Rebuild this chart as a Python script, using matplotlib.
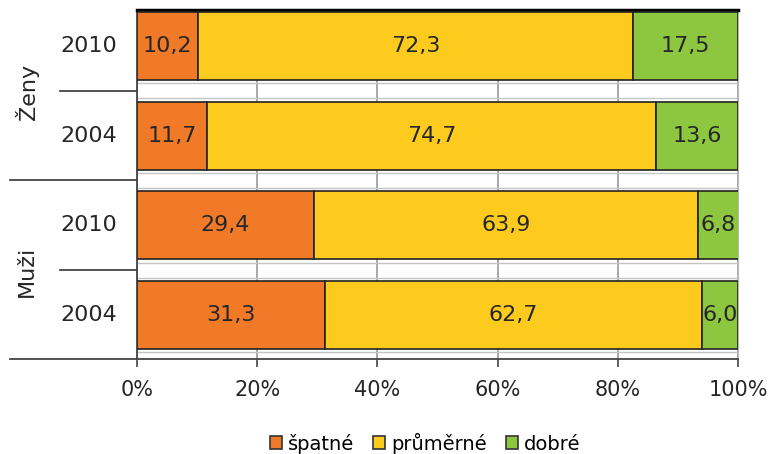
import matplotlib
matplotlib.use('Agg')
import matplotlib.pyplot as plt
import matplotlib.transforms as mtransforms
from matplotlib.lines import Line2D
from matplotlib.patches import Patch

years = ['2010', '2004', '2010', '2004']
groups = ['Ženy', 'Muži']
series = ['špatné', 'průměrné', 'dobré']
spatne = [10.2, 11.7, 29.4, 31.3]
prumerne = [72.3, 74.7, 63.9, 62.7]
dobre = [17.5, 13.6, 6.8, 6.0]
colors = ['#F07A28', '#FDCB1E', '#8DC63F']

plt.rcParams['font.family'] = ['DejaVu Sans']
txtcol = '#262626'

fig = plt.figure(figsize=(7.7, 4.54), dpi=100)
ax = fig.add_axes([137/770, 1-359/454, (738-137)/770, (359-10)/454])

ypos = list(range(len(years)))
left = [0.0] * len(years)
for vals, col in zip([spatne, prumerne, dobre], colors):
    ax.barh(ypos, vals, left=left, height=0.76, color=col,
            edgecolor='#222222', linewidth=1.2, zorder=3)
    for y, l, v in zip(ypos, left, vals):
        ax.text(l + v/2, y, f'{v:.1f}'.replace('.', ','), ha='center', va='center',
                fontsize=16, color=txtcol, zorder=4, clip_on=True)
    left = [a + b for a, b in zip(left, vals)]

# faint strip outlines in the gaps between bars
for y in ypos:
    for off in (-0.415, 0.415):
        ax.axhline(y + off, color='#c4c4c4', linewidth=1.0, zorder=1)

ax.set_xlim(0, 100)
ax.set_ylim(3.49, -0.40)
ax.set_xticks([0, 20, 40, 60, 80, 100])
ax.set_xticklabels(['0%', '20%', '40%', '60%', '80%', '100%'], fontsize=15, color=txtcol)
ax.tick_params(axis='x', direction='out', length=6, width=1.2, color='#444444', pad=9)
ax.set_yticks([])
ax.xaxis.grid(True, color='#9a9a9a', linewidth=1.2, zorder=0)
ax.set_axisbelow(True)

ax.spines['top'].set_color('black')
ax.spines['top'].set_linewidth(2.5)
ax.spines['left'].set_color('#444444')
ax.spines['left'].set_linewidth(1.3)
ax.spines['right'].set_color('#bbbbbb')
ax.spines['bottom'].set_color('#444444')
ax.spines['bottom'].set_linewidth(1.3)

# year labels and group labels at the left
for y, yr in zip(ypos, years):
    ax.text(-3.3, y, yr, ha='right', va='center', fontsize=16, color=txtcol)
fig.text(27/770, 1-92/454, groups[0], rotation=90, ha='center', va='center',
         fontsize=16, color=txtcol)
fig.text(27/770, 1-271/454, groups[1], rotation=90, ha='center', va='center',
         fontsize=16, color=txtcol)

# category separators
trans = mtransforms.blended_transform_factory(fig.transFigure, ax.transData)
x_axis = 137/770
for y, x0 in [(0.5, 60/770), (1.5, 10/770), (2.5, 60/770), (3.49, 10/770)]:
    fig.add_artist(Line2D([x0, x_axis], [y, y], transform=trans,
                          color='#444444', linewidth=1.3))

handles = [Patch(facecolor=c, edgecolor='#333333', linewidth=1.2) for c in colors]
fig.legend(handles, series, loc='center', bbox_to_anchor=(0.552, 1-443/454),
           ncol=3, frameon=False, fontsize=14, handlelength=0.6, handleheight=0.6,
           handletextpad=0.3, columnspacing=1.0)

fig.savefig('out.png', dpi=100)
